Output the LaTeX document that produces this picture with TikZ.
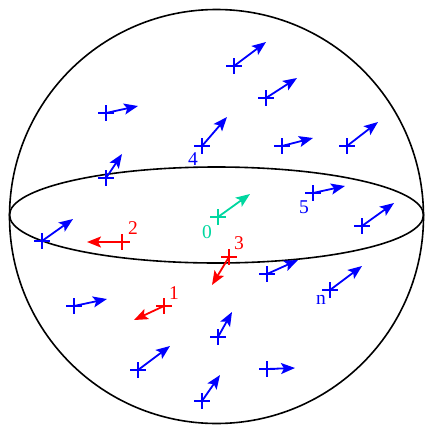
\documentclass[tikz,border=0pt]{standalone}
\usepackage{fontspec}
\setmainfont{Liberation Serif}
\usetikzlibrary{arrows.meta}
\definecolor{mint}{RGB}{0,215,160}
\tikzset{
  cross/.style={line width=1.8pt},
  vec/.style={line width=1.8pt,-{Stealth[length=14pt,width=11pt,inset=3pt]}},
  lbl/.style={font=\fontsize{19.5}{22}\selectfont,inner sep=0pt},
}
% particle: name, position, arrow tip, colour
\newcommand{\particle}[4]{%
  \coordinate (#1) at (#2);
  \coordinate (#1tip) at (#3);
  \draw[cross,#4] (#1) ++(-8,0) -- ++(16,0) (#1) ++(0,-8) -- ++(0,16);
  \draw[vec,#4] (#1) -- (#1tip);
}
\begin{document}
\begin{tikzpicture}[x=1pt,y=-1pt]
  \useasboundingbox (0,0) rectangle (424,426);
  % Sphere and equator
  \draw[line width=1.6pt] (216.5,216.5) circle (207);
  \draw[line width=1.6pt] (216.5,215) ellipse (207 and 48);
  % Blue particles
  \foreach \n/\x/\y/\u/\v in {
      b1/234/66/266/42, b2/266/98/297/78, b3/106/113/138/106,
      b4/202/146/227/117, b5/282/146/313/138, b6/347/146/378/122,
      b7/106/178/122/154, b8/313/193/345/186, b9/362/226/394/203,
      b10/42/241/73/219, b11/267/274/298/260, b12/330/290/362/266,
      b13/74/306/107/299, b14/218/337/232/312, b15/138/370/170/346,
      b16/267/369/295/368, b17/202/401/220/375}
    \particle{\n}{\x,\y}{\u,\v}{blue};
  % Marked particles
  \particle{g0}{218,217}{250,194}{mint}
  \particle{r1}{164,306}{134,320}{red}
  \particle{r2}{122,242}{87,242}{red}
  \particle{r3}{229,257}{212,285}{red}
  % Labels
  \node[lbl,mint] (l0) at (207,232) {0};
  \node[lbl,red] (l1) at (174,293) {1};
  \node[lbl,red] (l2) at (133,228) {2};
  \node[lbl,red] (l3) at (239,243) {3};
  \node[lbl,blue] (l4) at (193,159) {4};
  \node[lbl,blue] (l5) at (304,207) {5};
  \node[lbl,blue] (ln) at (321,300) {n};
\end{tikzpicture}
\end{document}
